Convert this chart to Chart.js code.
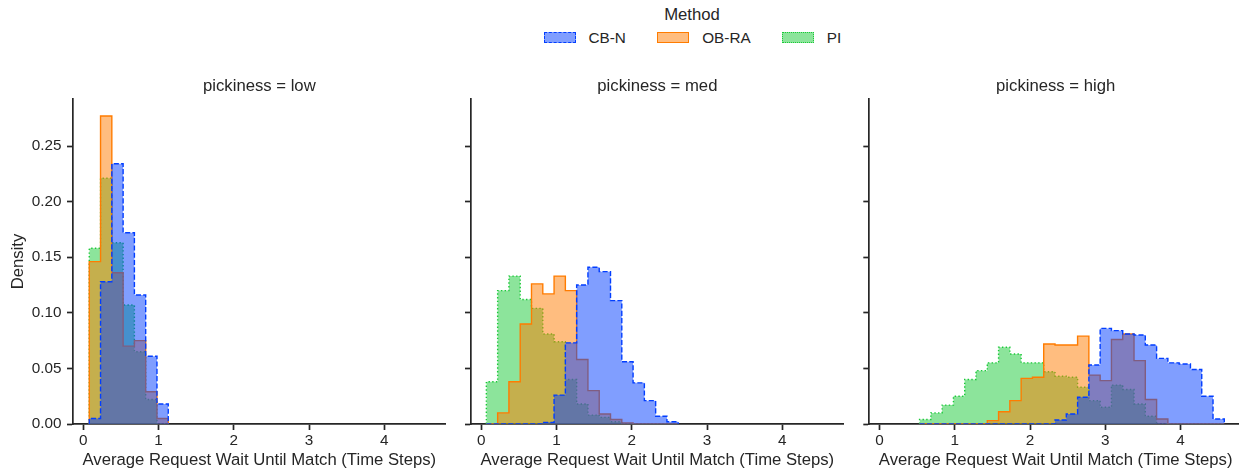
<!DOCTYPE html>
<html>
<head>
<meta charset="utf-8">
<script src="https://cdn.jsdelivr.net/npm/chart.js@4.4.1/dist/chart.umd.min.js"></script>
<style>
    html, body { margin: 0; padding: 0; background: #fff; overflow: hidden; width: 1239px; height: 469px; }
    body { position: relative; font-family: "Liberation Sans", Arial, sans-serif; color: #262626; }
    canvas { position: absolute; top: 0; }
    .legend-title { position: absolute; top: 5px; left: 692px; transform: translateX(-50%); font-size: 16.7px; line-height: 20px; white-space: nowrap; }
    .legend-swatch { position: absolute; top: 32.3px; width: 31.7px; height: 11px; box-sizing: border-box; border-width: 1.4px; }
    .legend-label { position: absolute; top: 29px; font-size: 15.3px; line-height: 18px; white-space: nowrap; }
</style>
</head>
<body>
<div class="legend-title">Method</div>
<div class="legend-swatch" style="left:544.3px; background:rgba(2,62,255,0.5); border-style:dashed; border-color:#023eff;"></div>
<div class="legend-label" style="left:588.5px;">CB-N</div>
<div class="legend-swatch" style="left:657.3px; background:rgba(255,124,0,0.5); border-style:solid; border-color:#ff7c00;"></div>
<div class="legend-label" style="left:702.2px;">OB-RA</div>
<div class="legend-swatch" style="left:782.3px; background:rgba(26,201,56,0.5); border-style:dotted; border-color:#1ac938;"></div>
<div class="legend-label" style="left:826.8px;">PI</div>

<canvas id="panel-low" width="455" height="469" style="left:0px; width:455px; height:469px;"></canvas>
<canvas id="panel-med" width="400" height="469" style="left:451px; width:400px; height:469px;"></canvas>
<canvas id="panel-high" width="400" height="469" style="left:849px; width:400px; height:469px;"></canvas>

<script>
// Chart data
const methods = ['CB-N', 'OB-RA', 'PI'];
const panelTitles = ['pickiness = low', 'pickiness = med', 'pickiness = high'];
const xTicks = [0, 1, 2, 3, 4];
const yTicks = [0, 0.05, 0.10, 0.15, 0.20, 0.25];

// Histogram bins: left edge of the first bin in each panel, and bin width
const binStart = [0.079, 0.067, 0.531];
const binWidth = [0.15, 0.15, 0.15];

// Density per bin, pickiness = low
const lowCBN  = [0.005, 0.128, 0.234, 0.172, 0.116, 0.061, 0.018];
const lowOBRA = [0.146, 0.277, 0.136, 0.070, 0.075, 0.029, 0.005];
const lowPI   = [0.158, 0.221, 0.163, 0.107, 0.065, 0.022, 0.000];

// Density per bin, pickiness = med
const medCBN  = [0, 0, 0, 0, 0, 0.0015, 0.026, 0.073, 0.125, 0.141, 0.137, 0.111, 0.056, 0.037, 0.021, 0.007, 0.002];
const medOBRA = [0, 0.010, 0.038, 0.090, 0.126, 0.117, 0.133, 0.120, 0.058, 0.030, 0.009, 0.004, 0.001, 0, 0, 0, 0];
const medPI   = [0.038, 0.120, 0.133, 0.112, 0.104, 0.081, 0.074, 0.040, 0.018, 0.008, 0.006, 0.002, 0, 0, 0, 0, 0];

// Density per bin, pickiness = high
const highCBN  = [0, 0, 0, 0, 0, 0, 0, 0, 0, 0, 0, 0,
                  0.0036, 0.009, 0.024, 0.053, 0.086, 0.084, 0.081, 0.080, 0.071, 0.059, 0.055, 0.054, 0.049, 0.025, 0.0045];
const highOBRA = [0, 0, 0, 0, 0, 0,
                  0.003, 0.011, 0.021, 0.041, 0.042, 0.072, 0.071, 0.071, 0.079, 0.044, 0.039, 0.076, 0.081, 0.057, 0.022, 0.0045,
                  0, 0, 0, 0, 0];
const highPI   = [0.004, 0.010, 0.017, 0.025, 0.040, 0.048, 0.055, 0.069, 0.063, 0.055, 0.055, 0.047, 0.043, 0.042, 0.033,
                  0.021, 0.015, 0.035, 0.031, 0.018, 0.007, 0, 0, 0, 0, 0, 0];

// Styles
const lineColors = ['#023eff', '#ff7c00', '#1ac938'];
const fillColors = ['rgba(2, 62, 255, 0.5)', 'rgba(255, 124, 0, 0.5)', 'rgba(26, 201, 56, 0.5)'];
const lineDashes = [[5.1, 2.2], [], [1.4, 2.3]];
const textColor = '#262626';
const axisColor = '#262626';
const fontFamily = '"Liberation Sans", Arial, sans-serif';

const X_MIN = -0.137;
const X_MAX = 4.816;
const Y_MAX = 0.2923;

Chart.defaults.font.family = fontFamily;
Chart.defaults.color = textColor;

// Turn bin values into a closed step outline
function stepPoints(start, width, values) {
    const pts = [{x: start, y: 0}];
    values.forEach((v, i) => pts.push({x: start + i * width, y: v}));
    pts.push({x: start + values.length * width, y: 0});
    return pts;
}

function makePanel(idx, canvasId, axisWidth, padRight, showYLabels, series) {
    const ctx = document.getElementById(canvasId).getContext('2d');
    return new Chart(ctx, {
        type: 'line',
        data: {
            datasets: series.map((vals, j) => ({
                label: methods[j],
                data: stepPoints(binStart[idx], binWidth[idx], vals),
                stepped: true,
                borderColor: lineColors[j],
                backgroundColor: fillColors[j],
                borderWidth: 1.4,
                borderDash: lineDashes[j],
                fill: 'origin',
                pointRadius: 0,
                pointHoverRadius: 0,
                tension: 0
            }))
        },
        options: {
            responsive: false,
            animation: false,
            events: [],
            layout: {
                padding: { top: 75.9, right: padRight, bottom: 0, left: 0 }
            },
            plugins: {
                legend: { display: false },
                tooltip: { enabled: false },
                title: {
                    display: true,
                    fullSize: false,
                    text: panelTitles[idx],
                    color: textColor,
                    font: { size: 16.7, weight: 'normal', lineHeight: 1.2 },
                    padding: { top: 0, bottom: 3.06 }
                }
            },
            scales: {
                x: {
                    type: 'linear',
                    min: X_MIN,
                    max: X_MAX,
                    z: 1,
                    afterBuildTicks: scale => { scale.ticks = xTicks.map(v => ({ value: v })); },
                    afterFit: scale => { scale.height = 45; },
                    border: { display: true, color: axisColor, width: 1.7 },
                    grid: {
                        display: true,
                        drawOnChartArea: false,
                        drawTicks: true,
                        tickLength: 6,
                        tickWidth: 1.7,
                        tickColor: axisColor
                    },
                    ticks: {
                        color: textColor,
                        font: { size: 15.3 },
                        padding: 1.3,
                        maxRotation: 0,
                        autoSkip: false,
                        callback: v => String(v)
                    },
                    title: {
                        display: true,
                        text: 'Average Request Wait Until Match (Time Steps)',
                        color: textColor,
                        font: { size: 16.7, lineHeight: 1.0 },
                        padding: 0
                    }
                },
                y: {
                    type: 'linear',
                    min: 0,
                    max: Y_MAX,
                    z: 1,
                    afterBuildTicks: scale => { scale.ticks = yTicks.map(v => ({ value: v })); },
                    afterFit: scale => { scale.width = axisWidth; },
                    border: { display: true, color: axisColor, width: 1.7 },
                    grid: {
                        display: true,
                        drawOnChartArea: false,
                        drawTicks: true,
                        tickLength: 6,
                        tickWidth: 1.7,
                        tickColor: axisColor
                    },
                    ticks: {
                        color: textColor,
                        font: { size: 15.3 },
                        padding: 5.5,
                        autoSkip: false,
                        callback: v => showYLabels ? Number(v).toFixed(2) : ''
                    },
                    title: {
                        display: showYLabels,
                        text: 'Density',
                        color: textColor,
                        font: { size: 16.7, lineHeight: 1.2 },
                        padding: { top: 8, bottom: 0 }
                    }
                }
            }
        }
    });
}

makePanel(0, 'panel-low', 73, 9.3, true, [lowCBN, lowOBRA, lowPI]);
makePanel(1, 'panel-med', 20, 7.3, false, [medCBN, medOBRA, medPI]);
makePanel(2, 'panel-high', 20.3, 7.0, false, [highCBN, highOBRA, highPI]);
</script>
</body>
</html>
